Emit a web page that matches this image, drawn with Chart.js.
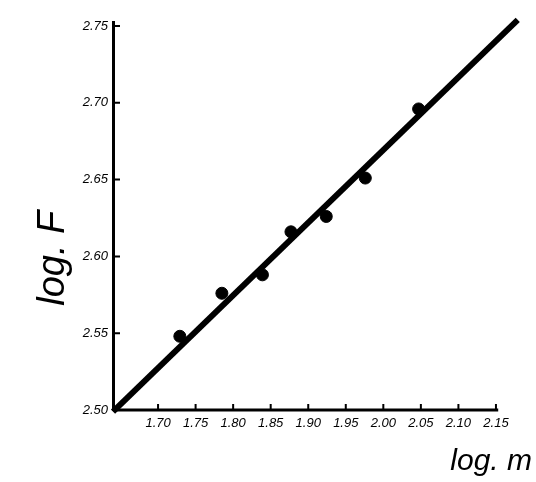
<!DOCTYPE html>
<html>
<head>
<meta charset="utf-8">
<script src="https://cdn.jsdelivr.net/npm/chart.js@4"></script>
<style>
  html, body { margin: 0; padding: 0; background: #fff; }
  #wrap { width: 536px; height: 482px; }
</style>
</head>
<body>
<div id="wrap"><canvas id="myChart"></canvas></div>
<script>
// measured points (log m, log F)
const logM = [1.729, 1.785, 1.839, 1.877, 1.924, 1.976, 2.047];
const logF = [2.548, 2.576, 2.588, 2.616, 2.626, 2.651, 2.696];

// fitted straight line, end points
const fitX = [1.640, 2.179];
const fitY = [2.499, 2.754];

const xTicks = [1.70, 1.75, 1.80, 1.85, 1.90, 1.95, 2.00, 2.05, 2.10, 2.15];
const xTickLabels = ['1.70', '1.75', '1.80', '1.85', '1.90', '1.95', '2.00', '2.05', '2.10', '2.15'];
const yTicks = [2.50, 2.55, 2.60, 2.65, 2.70, 2.75];
const yTickLabels = ['2.50', '2.55', '2.60', '2.65', '2.70', '2.75'];
const xAxisEnd = 2.153;

const handFont = 'Liberation Sans';

// x axis line (stops short of the plot edge) and small inward tick marks
const handAxes = {
  id: 'handAxes',
  afterDatasetsDraw(chart) {
    const ctx = chart.ctx;
    const area = chart.chartArea;
    const xs = chart.scales.x, ys = chart.scales.y;
    ctx.save();
    ctx.strokeStyle = '#000';
    ctx.lineWidth = 3;
    ctx.beginPath();
    ctx.moveTo(area.left, area.bottom);
    ctx.lineTo(xs.getPixelForValue(xAxisEnd), area.bottom);
    ctx.stroke();
    ctx.lineWidth = 2;
    ctx.beginPath();
    xTicks.forEach(v => {
      const px = xs.getPixelForValue(v);
      ctx.moveTo(px, area.bottom);
      ctx.lineTo(px, area.bottom - 6);
    });
    yTicks.forEach(v => {
      const py = ys.getPixelForValue(v);
      ctx.moveTo(area.left, py);
      ctx.lineTo(area.left + 7, py);
    });
    ctx.stroke();
    ctx.restore();
  }
};

const ctx = document.getElementById('myChart');

new Chart(ctx, {
  type: 'scatter',
  data: {
    datasets: [{
      data: logM.map((x, i) => ({ x: x, y: logF[i] })),
      pointRadius: 6,
      pointHoverRadius: 6,
      backgroundColor: '#000',
      borderColor: '#000',
      showLine: false
    }, {
      data: fitX.map((x, i) => ({ x: x, y: fitY[i] })),
      showLine: true,
      pointRadius: 0,
      borderColor: '#000',
      borderWidth: 6,
      clip: false
    }]
  },
  options: {
    responsive: true,
    maintainAspectRatio: false,
    animation: false,
    layout: { padding: { left: 27, top: 22, right: 4, bottom: 0 } },
    plugins: {
      legend: { display: false },
      tooltip: { enabled: false },
      title: {
        display: true,
        position: 'bottom',
        align: 'end',
        text: 'log. m',
        color: '#000',
        font: { family: handFont, size: 30, style: 'italic', weight: 'normal' },
        padding: { top: 0, bottom: 2 }
      }
    },
    scales: {
      x: {
        type: 'linear',
        min: 1.64,
        max: 2.194,
        grid: { display: false, drawTicks: false },
        border: { display: false },
        afterBuildTicks: s => { s.ticks = xTicks.map(v => ({ value: v })); },
        afterFit: s => { s.height = 34; },
        ticks: {
          color: '#000',
          padding: 6,
          maxRotation: 0,
          autoSkip: false,
          font: { family: handFont, size: 13, style: 'italic' },
          callback: (v, i) => xTickLabels[i]
        }
      },
      y: {
        type: 'linear',
        min: 2.50,
        max: 2.7526,
        grid: { display: false, drawTicks: false },
        border: { display: true, color: '#000', width: 3 },
        afterBuildTicks: s => { s.ticks = yTicks.map(v => ({ value: v })); },
        afterFit: s => { s.width = 86; },
        title: {
          display: true,
          text: 'log. F        ',
          color: '#000',
          font: { family: handFont, size: 38, style: 'italic', weight: 'normal' }
        },
        ticks: {
          color: '#000',
          padding: 5,
          autoSkip: false,
          font: { family: handFont, size: 13, style: 'italic' },
          callback: (v, i) => yTickLabels[i]
        }
      }
    }
  },
  plugins: [handAxes]
});
</script>
</body>
</html>
